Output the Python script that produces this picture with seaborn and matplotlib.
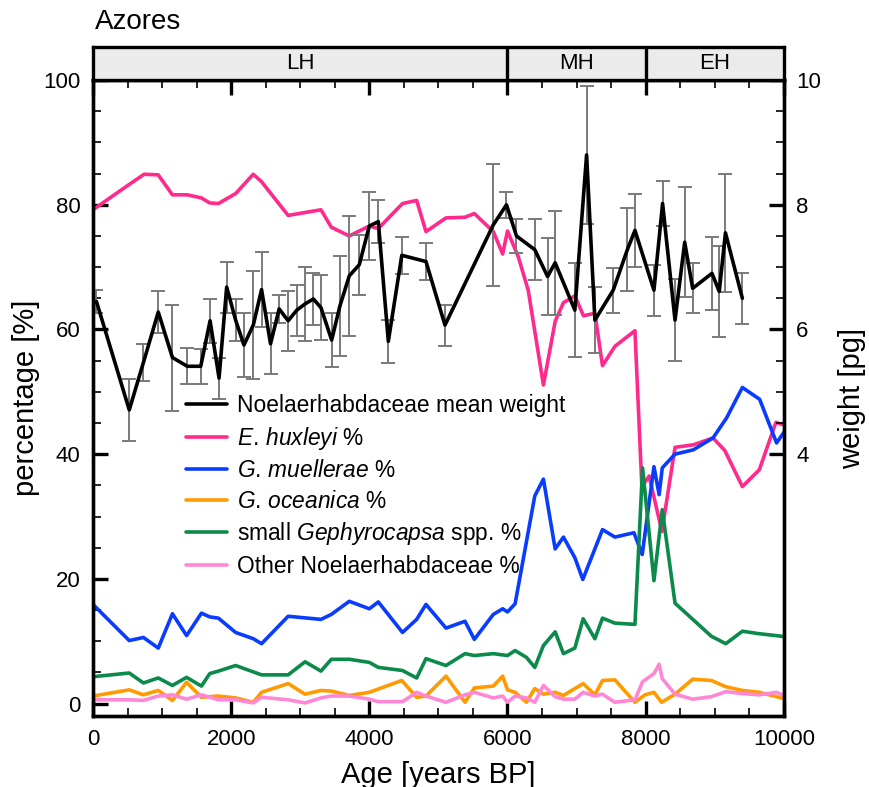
import matplotlib
matplotlib.use("Agg")
import matplotlib.pyplot as plt
from matplotlib.ticker import MultipleLocator, FixedLocator
import numpy as np
import pandas as pd
import seaborn as sns

# weight (pg) with 1 SE, right axis
W_AGE = [50, 525, 730, 945, 1150, 1365, 1560, 1695, 1825, 1935,
         2065, 2185, 2320, 2440, 2570, 2695, 2825, 2950, 3070, 3190,
         3300, 3455, 3575, 3710, 3855, 4000, 4130, 4275, 4470, 4820,
         5095, 5795, 5985, 6130, 6395, 6580, 6690, 6975, 7145, 7265,
         7530, 7735, 7845, 8120, 8245, 8425, 8565, 8680, 8960, 9065,
         9155, 9400]
W_MEAN = [6.45, 4.71, 5.47, 6.28, 5.55, 5.41, 5.41, 6.14, 5.22, 6.68,
          6.15, 5.75, 6.07, 6.64, 5.77, 6.33, 6.14, 6.31, 6.41, 6.49,
          6.35, 5.83, 6.38, 6.86, 7.04, 7.66, 7.73, 5.81, 7.19, 7.09,
          6.07, 7.68, 8.0, 7.5, 7.28, 6.85, 7.07, 6.31, 8.8, 6.15,
          6.63, 7.28, 7.59, 6.63, 8.02, 6.15, 7.4, 6.66, 6.9, 6.61,
          7.55, 6.5]
W_ERR = [0.19, 0.5, 0.3, 0.34, 0.85, 0.29, 0.28, 0.35, 0.33, 0.41,
         0.34, 0.51, 0.87, 0.6, 0.49, 0.22, 0.48, 0.41, 0.6, 0.41,
         0.52, 0.43, 0.8, 0.96, 0.48, 0.55, 0.35, 0.34, 0.3, 0.29,
         0.33, 0.98, 0.21, 0.27, 0.49, 0.61, 0.83, 0.75, 1.11, 0.53,
         0.36, 0.67, 0.59, 0.41, 0.36, 0.66, 0.88, 0.4, 0.59, 0.73,
         0.95, 0.41]

EHUX_AGE = [0, 490, 740, 945, 1150, 1365, 1570, 1690, 1815, 2065,
            2320, 2440, 2825, 3300, 3450, 3710, 4000, 4130, 4480, 4685,
            4820, 5110, 5385, 5520, 5795, 5930, 6000, 6155, 6300, 6520,
            6690, 6810, 6975, 7100, 7265, 7375, 7555, 7845, 7945, 8050,
            8235, 8425, 8690, 8975, 9145, 9400, 9645, 9885, 10000]
EHUX = [79.2, 83.0, 84.9, 84.8, 81.6, 81.6, 81.1, 80.3, 80.2, 81.8,
        84.9, 83.7, 78.3, 79.2, 76.4, 75.0, 76.6, 76.2, 80.2, 80.7,
        75.7, 77.9, 78.0, 78.6, 75.7, 72.1, 75.8, 71.7, 66.3, 51.1,
        61.3, 64.3, 65.4, 62.2, 62.6, 54.2, 57.3, 59.8, 34.8, 36.5,
        27.6, 41.1, 41.5, 42.6, 40.6, 34.8, 37.5, 45.1, 44.7]

MUE_AGE = [0, 525, 730, 945, 1150, 1355, 1570, 1690, 1815, 2065,
           2320, 2440, 2825, 3300, 3450, 3710, 4000, 4130, 4480, 4685,
           4820, 5110, 5385, 5520, 5795, 5930, 6000, 6110, 6395, 6520,
           6690, 6810, 6975, 7090, 7375, 7555, 7830, 7950, 8120, 8195,
           8240, 8425, 8690, 8975, 9170, 9400, 9650, 9895, 10000]
MUE = [15.9, 10.1, 10.6, 8.9, 14.4, 10.9, 14.5, 13.9, 13.7, 11.4,
       10.4, 9.6, 14.0, 13.5, 14.3, 16.4, 15.2, 16.3, 11.4, 13.5,
       15.9, 12.1, 13.2, 10.3, 14.3, 15.2, 14.7, 16.0, 33.3, 36.0,
       24.8, 26.7, 23.4, 19.9, 27.9, 26.7, 27.4, 23.9, 38.0, 33.5,
       37.8, 40.0, 40.7, 42.6, 45.8, 50.7, 48.8, 41.8, 43.5]

OCE_AGE = [0, 525, 730, 945, 1150, 1355, 1570, 1815, 2065, 2320,
           2440, 2825, 3070, 3300, 3450, 3710, 4000, 4470, 4685, 4820,
           5110, 5385, 5520, 5795, 5930, 6000, 6110, 6275, 6395, 6520,
           6690, 6810, 7095, 7265, 7375, 7555, 7845, 7990, 8120, 8230,
           8425, 8680, 8950, 9160, 9400, 9645, 9965, 10000]
OCE = [1.2, 2.2, 1.4, 2.1, 0.5, 3.4, 1.0, 1.2, 0.9, 0.2,
       1.8, 3.2, 1.5, 2.1, 2.0, 1.3, 1.8, 3.7, 1.0, 1.2,
       4.4, 0.2, 2.5, 2.8, 4.4, 2.2, 1.8, 0.2, 2.4, 1.5,
       1.8, 1.3, 3.2, 1.4, 3.7, 3.8, 0.2, 1.4, 1.8, 0.2,
       1.5, 3.9, 3.7, 2.7, 2.1, 1.8, 0.9, 0.8]

SGEPH_AGE = [0, 525, 730, 945, 1150, 1355, 1570, 1690, 1815, 2065,
             2440, 2825, 3070, 3300, 3450, 3710, 4000, 4130, 4480, 4685,
             4820, 5110, 5385, 5520, 5795, 6000, 6110, 6275, 6395, 6520,
             6690, 6810, 6975, 7095, 7265, 7375, 7555, 7845, 7955, 8120,
             8240, 8425, 8950, 9160, 9400, 9645, 9965, 10000]
SGEPH = [4.3, 4.9, 3.3, 4.1, 2.9, 4.2, 2.8, 4.8, 5.2, 6.1,
         4.6, 4.6, 6.7, 5.2, 7.1, 7.1, 6.6, 5.8, 5.3, 4.1,
         7.2, 6.1, 8.0, 7.7, 8.0, 7.7, 8.5, 7.4, 5.8, 9.3,
         11.5, 8.0, 8.9, 13.6, 10.4, 13.7, 12.9, 12.7, 37.8, 19.7,
         31.1, 16.1, 10.8, 9.6, 11.6, 11.2, 10.8, 10.7]

OTHER_AGE = [0, 525, 730, 945, 1150, 1355, 1570, 1815, 2065, 2320,
             2440, 2825, 3070, 3300, 3450, 3710, 4000, 4130, 4480, 4685,
             4820, 5110, 5385, 5520, 5795, 5930, 6000, 6110, 6275, 6395,
             6520, 6690, 6810, 6975, 7095, 7265, 7375, 7555, 7845, 7955,
             8120, 8195, 8240, 8425, 8680, 8950, 9160, 9400, 9645, 9895,
             10000]
OTHER = [0.6, 0.6, 0.5, 1.2, 1.4, 0.7, 1.4, 0.6, 0.6, 0.1,
         1.0, 0.6, 0.1, 0.9, 1.2, 1.2, 0.7, 0.3, 0.3, 1.8,
         1.2, 0.2, 1.4, 1.8, 0.9, 1.2, 0.2, 1.2, 0.9, 0.2,
         2.9, 1.1, 0.7, 0.7, 1.8, 1.2, 1.5, 0.2, 0.6, 3.5,
         4.8, 6.3, 4.0, 1.5, 0.7, 1.1, 1.9, 1.6, 1.4, 1.8,
         1.3]

PERIODS = [("LH", 0, 6000), ("MH", 6000, 8000), ("EH", 8000, 10000)]

SERIES = [
    (EHUX_AGE, EHUX, "#ff2a8c", r"$\mathit{E.\,huxleyi}$ %"),
    (MUE_AGE, MUE, "#0a3cff", r"$\mathit{G.\,muellerae}$ %"),
    (OCE_AGE, OCE, "#ff9a00", r"$\mathit{G.\,oceanica}$ %"),
    (SGEPH_AGE, SGEPH, "#0b8a4c", r"small $\mathit{Gephyrocapsa}$ spp. %"),
    (OTHER_AGE, OTHER, "#ff88d6", "Other Noelaerhabdaceae %"),
]


def style_axis(ax):
    for sp in ax.spines.values():
        sp.set_linewidth(2.4)
        sp.set_color("black")


sns.set_style("ticks")
plt.rcParams["font.family"] = ["Liberation Sans", "DejaVu Sans"]
plt.rcParams["mathtext.fontset"] = "custom"
plt.rcParams["mathtext.rm"] = "Liberation Sans"
plt.rcParams["mathtext.it"] = "Liberation Sans:italic"
for key in ["text.color", "axes.labelcolor", "xtick.color", "ytick.color"]:
    plt.rcParams[key] = "black"

fig = plt.figure(figsize=(8.69, 7.87), dpi=100)
ax = fig.add_axes([0.107, 0.0902, 0.795, 0.808])
ax2 = ax.twinx()

handles = []
for age, vals, color, label in SERIES:
    sns.lineplot(x=age, y=vals, ax=ax, color=color, lw=2.6, estimator=None,
                 sort=False, label=label, legend=False)
    handles.append(ax.lines[-1])

wdf = pd.DataFrame({"age": W_AGE, "weight": W_MEAN, "se": W_ERR})
ax2.errorbar(wdf["age"], wdf["weight"], yerr=wdf["se"], fmt="none",
             ecolor="#7a7a7a", elinewidth=1.4, capsize=5, capthick=1.4)
sns.lineplot(data=wdf, x="age", y="weight", ax=ax2, color="black", lw=2.6,
             estimator=None, sort=False, legend=False)
w_line = ax2.lines[-1]
w_line.set_label("Noelaerhabdaceae mean weight")

ax.set_xlim(0, 10000)
ax.set_ylim(-2, 100)
ax2.set_ylim(-0.2, 10)

ax.xaxis.set_major_locator(MultipleLocator(2000))
ax.xaxis.set_minor_locator(MultipleLocator(500))
ax.yaxis.set_major_locator(MultipleLocator(20))
ax.yaxis.set_minor_locator(MultipleLocator(5))
ax2.yaxis.set_major_locator(FixedLocator([4, 6, 8, 10]))
ax2.yaxis.set_minor_locator(FixedLocator(np.arange(4, 10.01, 0.5)))

ax.tick_params(which="both", direction="in", top=True, labelsize=16, pad=9)
ax.tick_params(which="major", length=11, width=2.4)
ax.tick_params(which="minor", length=6, width=1.2)
ax2.tick_params(which="both", direction="in", labelsize=16, pad=9)
ax2.tick_params(which="major", length=11, width=2.4)
ax2.tick_params(which="minor", length=6, width=1.2)

ax.set_xlabel("Age [years BP]", fontsize=21, labelpad=8)
ax.set_ylabel("percentage [%]", fontsize=21, labelpad=2)
ax2.set_ylabel("weight [pg]", fontsize=21, labelpad=12)
style_axis(ax)
style_axis(ax2)

ax2.legend([w_line] + handles, [w_line.get_label()] + [h.get_label() for h in handles],
           loc="upper left", bbox_to_anchor=(0.214, 0.499),
           bbox_transform=fig.transFigure, frameon=False, fontsize=16.4,
           handlelength=1.8, handletextpad=0.45, labelspacing=0.33,
           borderpad=0, borderaxespad=0)

# period header
hax = fig.add_axes([0.107, 0.898, 0.795, 0.042])
hax.set_xlim(0, 10000)
hax.set_ylim(0, 1)
hax.set_facecolor("#ebebeb")
for name, start, end in PERIODS:
    hax.text((start + end) / 2, 0.5, name, ha="center", va="center", fontsize=16)
    if start > 0:
        hax.axvline(start, color="black", lw=2.4)
hax.set_xticks([])
hax.set_yticks([])
style_axis(hax)

fig.text(0.109, 0.972, "Azores", fontsize=20, ha="left", va="center")

fig.savefig("out.png", dpi=100)
